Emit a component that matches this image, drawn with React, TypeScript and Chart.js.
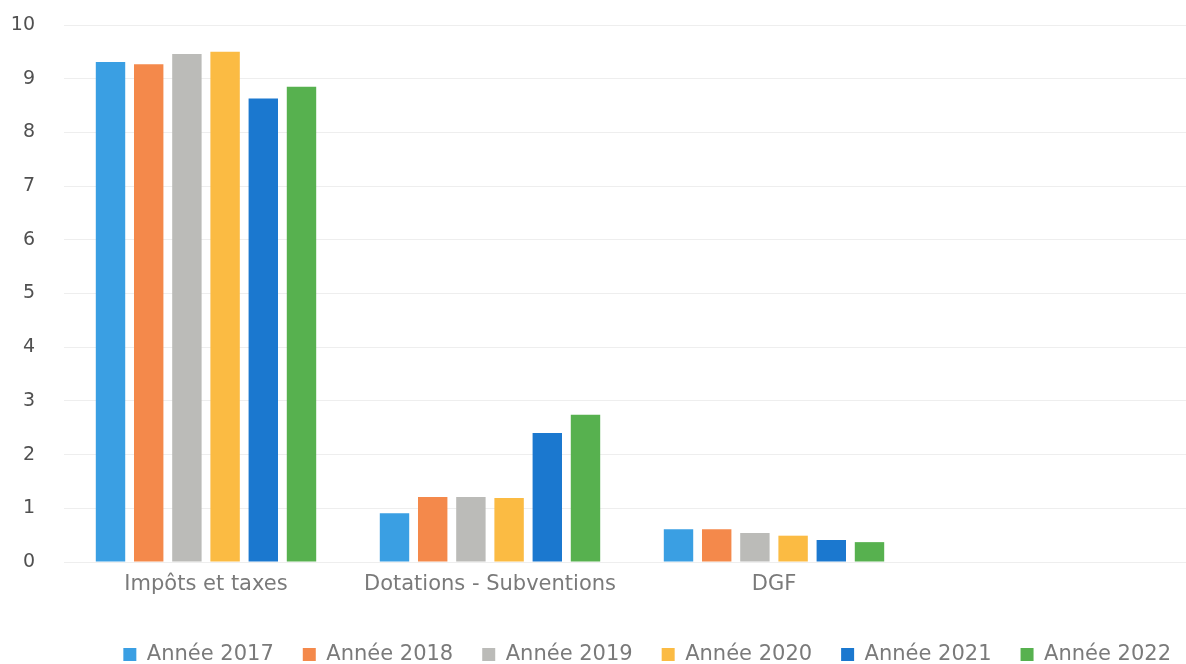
import React, { useEffect, useRef } from "react";
import { Chart, registerables } from "chart.js";

Chart.register(...registerables);

const categories = ["Impôts et taxes", "Dotations - Subventions", "DGF", ""];
const seriesLabels = ["Année 2017", "Année 2018", "Année 2019", "Année 2020", "Année 2021", "Année 2022"];
const annee2017 = [9.31, 0.91, 0.61, null];
const annee2018 = [9.27, 1.21, 0.61, null];
const annee2019 = [9.46, 1.21, 0.54, null];
const annee2020 = [9.5, 1.19, 0.49, null];
const annee2021 = [8.63, 2.4, 0.41, null];
const annee2022 = [8.85, 2.74, 0.37, null];
const seriesColors = ["#3A9FE3", "#F4894B", "#BBBBB8", "#FBBB43", "#1B78CF", "#57B14F"];
const yTicks = [0, 1, 2, 3, 4, 5, 6, 7, 8, 9, 10];

const FONT = "'DejaVu Sans'";
const CW = 1200;
const CH = 675;

export default function App() {
  const ref = useRef<HTMLCanvasElement | null>(null);
  useEffect(() => {
    if (!ref.current) return;
    const values = [annee2017, annee2018, annee2019, annee2020, annee2021, annee2022];
    const chart = new Chart(ref.current, {
      type: "bar",
      data: {
        labels: categories,
        datasets: values.map((v, i) => ({
          label: seriesLabels[i],
          data: v,
          backgroundColor: seriesColors[i],
          borderWidth: 0,
          categoryPercentage: 0.807,
          barPercentage: 0.77,
        })),
      },
      options: {
        animation: false,
        responsive: false,
        maintainAspectRatio: false,
        layout: { padding: { left: 0, right: 0, top: 25, bottom: 0 } },
        plugins: {
          legend: {
            position: "bottom",
            align: "end",
            labels: {
              boxWidth: 13,
              boxHeight: 13,
              padding: 29,
              color: "#7a7a7a",
              font: { family: FONT, size: 21 },
            },
          },
          tooltip: { enabled: false },
        },
        scales: {
          x: {
            afterFit: (s: any) => { s.height = 53; },
            grid: { display: false, drawTicks: false },
            border: { display: false },
            ticks: {
              color: "#7a7a7a",
              padding: 10,
              font: { family: FONT, size: 21 },
              maxRotation: 0,
              autoSkip: false,
            },
          },
          y: {
            min: 0,
            max: 10,
            afterFit: (s: any) => { s.width = 64; s.paddingTop = 0; s.paddingBottom = 0; },
            afterBuildTicks: (s: any) => { s.ticks = yTicks.map((v) => ({ value: v })); },
            grid: { color: "#eeeeee", drawTicks: false },
            border: { display: false },
            ticks: {
              color: "#505050",
              padding: 29,
              font: { family: FONT, size: 19 },
            },
          },
        },
      },
    });
    return () => chart.destroy();
  }, []);
  return (
    <div style={{ position: "fixed", left: 0, top: 0, width: 1186, height: 664, overflow: "hidden", background: "#fff" }}>
      <canvas ref={ref} width={CW} height={CH} style={{ width: CW, height: CH, display: "block" }} />
    </div>
  );
}
